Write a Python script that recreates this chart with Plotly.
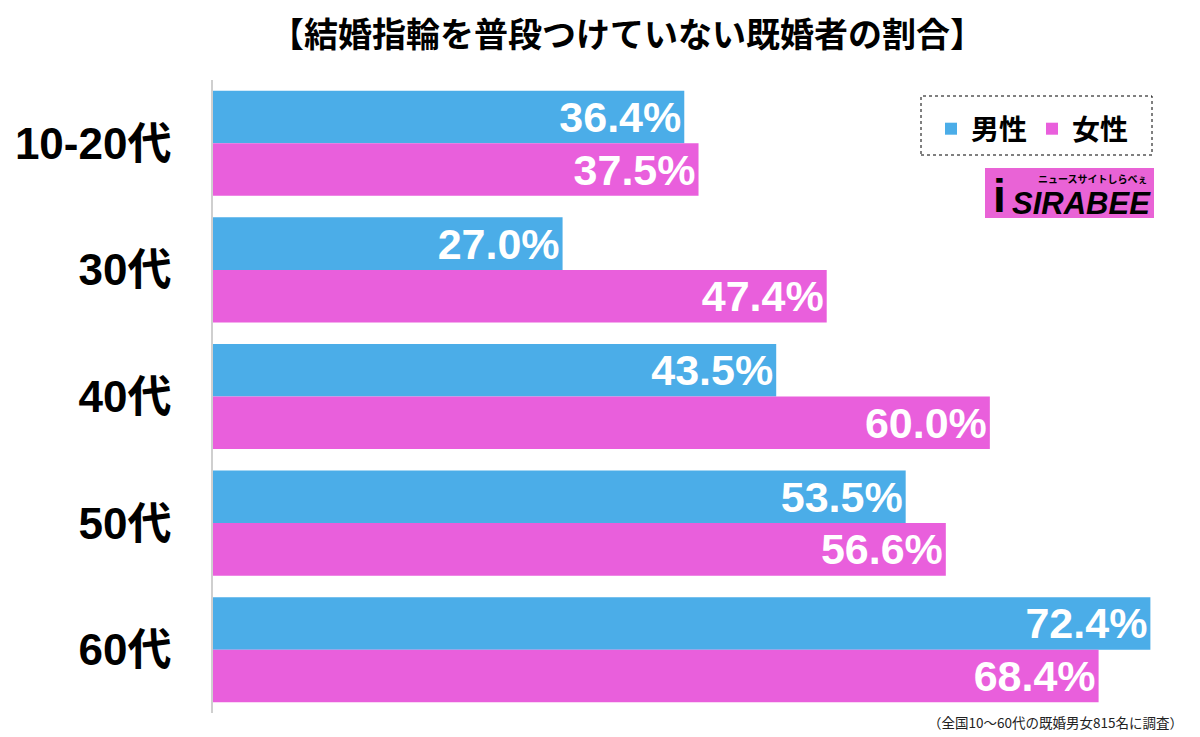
import plotly.graph_objects as go

categories = ["10-20代", "30代", "40代", "50代", "60代"]
male = [36.4, 27.0, 43.5, 53.5, 72.4]
female = [37.5, 47.4, 60.0, 56.6, 68.4]
series_names = ["男性", "女性"]
title_text = "【結婚指輪を普段つけていない既婚者の割合】"
note_text = "（全国10〜60代の既婚男女815名に調査）"

W, H = 1200, 737
L, R, T, B = 213, 3, 80, 24
PW, PH = W - L - R, H - T - B

def px(x):
    return (x - L) / PW

def py(y):
    return (H - B - y) / PH

BLUE = "#4BADE8"
PINK = "#E95FDC"
FONT = "Liberation Sans, Noto Sans CJK JP, sans-serif"

fig = go.Figure()
for name, vals, col in [(series_names[0], male, BLUE), (series_names[1], female, PINK)]:
    fig.add_trace(go.Bar(
        name=name, y=categories, x=vals, orientation="h",
        marker=dict(color=col, line=dict(width=0)),
        texttemplate="%{x:.1f}%", textposition="inside", insidetextanchor="end",
        constraintext="none",
        textfont=dict(color="white", size=43, family=FONT, weight="bold"),
        hoverinfo="skip",
    ))

fig.update_layout(
    width=W, height=H,
    margin=dict(l=L, r=R, t=T, b=B, autoexpand=False),
    paper_bgcolor="white", plot_bgcolor="white",
    barmode="group", bargap=0.17, bargroupgap=0,
    showlegend=True,
    legend=dict(
        orientation="h", xref="paper", yref="paper",
        x=px(931), y=py(104), xanchor="left", yanchor="top",
        font=dict(size=28, family=FONT, color="black", weight="bold"),
        bgcolor="rgba(0,0,0,0)", borderwidth=0,
        itemsizing="constant", traceorder="normal",
    ),
    title=dict(
        text=title_text, xref="container", yref="container",
        x=627 / W, y=1 - 35 / H, xanchor="center", yanchor="middle",
        font=dict(size=34, family=FONT, color="black", weight="bold"),
    ),
    xaxis=dict(range=[0, 76], visible=False, fixedrange=True),
    yaxis=dict(
        categoryorder="array", categoryarray=categories, autorange="reversed",
        showline=True, linecolor="#cfcfcf", linewidth=1.5,
        showgrid=False, zeroline=False, ticks="",
        ticklabelstandoff=31, automargin=False, fixedrange=True,
        tickfont=dict(size=44, family=FONT, color="black", weight="bold"),
    ),
)

# dotted legend frame
fig.add_shape(type="rect", xref="paper", yref="paper",
              x0=px(921), x1=px(1152), y0=py(155), y1=py(96),
              line=dict(color="black", width=1, dash="dot"), fillcolor="rgba(0,0,0,0)")

# logo
fig.add_shape(type="rect", xref="paper", yref="paper",
              x0=px(985), x1=px(1154), y0=py(218), y1=py(168),
              line=dict(width=0), fillcolor="#E963D6")
fig.add_annotation(xref="paper", yref="paper", x=px(999), y=py(196), text="<b>i</b>",
                   showarrow=False, xanchor="center", yanchor="middle",
                   font=dict(size=46, family="Liberation Sans", color="black"))
fig.add_annotation(xref="paper", yref="paper", x=px(1153), y=py(204), text="<b><i>SIRABEE</i></b>",
                   showarrow=False, xanchor="right", yanchor="middle",
                   font=dict(size=31, family="Liberation Sans", color="black"))
fig.add_annotation(xref="paper", yref="paper", x=px(1150), y=py(178), text="<b>ニュースサイトしらべぇ</b>",
                   showarrow=False, xanchor="right", yanchor="middle",
                   font=dict(size=10, family="Noto Sans CJK JP", color="black"))

# footnote
fig.add_annotation(xref="paper", yref="paper", x=px(1185), y=py(722), text=note_text,
                   showarrow=False, xanchor="right", yanchor="middle",
                   font=dict(size=13.5, family="Noto Sans CJK JP", color="#222222"))

fig.write_html("out.html", config={"displayModeBar": False, "staticPlot": False},
               post_script="document.body.style.margin='0';")
